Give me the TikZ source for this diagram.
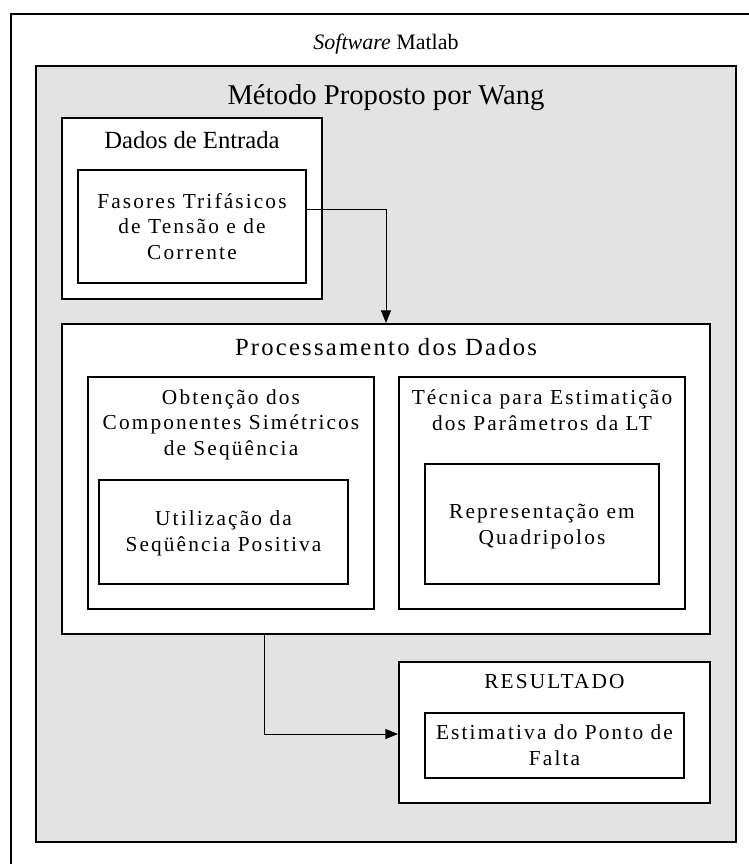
\documentclass[tikz,border=0pt]{standalone}
\usepackage{fontspec}
\setmainfont{Liberation Serif}
\newfontfamily\spacedfont[LetterSpace=10]{Liberation Serif}
\newfontfamily\procfont[LetterSpace=9]{Liberation Serif}
\usetikzlibrary{arrows.meta,fit}
\definecolor{bggray}{RGB}{227,227,227}
\begin{document}
\begin{tikzpicture}[x=0.75pt,y=-0.75pt,
  box/.style={draw,line width=1.5pt,fill=white,inner sep=0pt},
  btxt/.style={font=\spacedfont\fontsize{16}{19.1}\selectfont,align=center,inner sep=0pt,anchor=base},
  conn/.style={line width=0.75pt,-{Triangle[length=9.5pt,width=7.5pt]}}]
\useasboundingbox (0,0) rectangle (749,864);
\clip (0,0) rectangle (749,864);
\node[box, fit={(10.5,14) (790,900)}] (outer) {};
\node[box, fill=bggray, fit={(36,66) (736,842)}] (method) {};
\node[font=\fontsize{16.5}{20}\selectfont, anchor=base, inner sep=0pt] (sw) at (386,49) {\textit{Software} Matlab};
\node[font=\fontsize{21.5}{25}\selectfont, anchor=base, inner sep=0pt] (wang) at (386,104) {Método Proposto por Wang};
% input data
\node[box, fit={(62,118) (322,299)}] (dados) {};
\node[font=\fontsize{18.5}{22}\selectfont, anchor=base, inner sep=0pt] (dadost) at (192,148) {Dados de Entrada};
\node[box, fit={(78,170) (306,283)}] (fasores) {};
\node[btxt] (fasorest) at (192,259) {Fasores Trifásicos\\de Tensão e de\\Corrente};
% processing
\node[box, fit={(62,324) (710,634)}] (proc) {};
\node[font=\procfont\fontsize{18.5}{22}\selectfont, anchor=base, inner sep=0pt] (proct) at (386,355) {Processamento dos Dados};
\node[box, fit={(88,377) (374,609)}] (obt) {};
\node[btxt] (obtt) at (231,455) {Obtenção dos\\Componentes Simétricos\\de Seqüência};
\node[box, fit={(99,480) (348,584)}] (util) {};
\node[btxt] (utilt) at (223.5,551) {Utilização da\\Seqüência Positiva};
\node[box, fit={(399,377) (685,609)}] (tec) {};
\node[btxt] (tect) at (542,430) {Técnica para Estimatição\\dos Parâmetros da LT};
\node[box, fit={(425,464) (659,584)}] (rep) {};
\node[btxt] (rept) at (542,544) {Representação em\\Quadripolos};
% result
\node[box, fit={(399,662) (710,803)}] (res) {};
\node[btxt] (rest) at (554.5,688) {RESULTADO};
\node[box, fit={(425,713) (684,778)}] (est) {};
\node[btxt] (estt) at (554.5,765) {Estimativa do Ponto de\\Falta};
% connectors
\coordinate (c1) at (386,209);
\coordinate (c2) at (264,734);
\draw[conn] (fasores.east |- c1) -- (c1) -- (c1 |- proc.north);
\draw[conn] (c2 |- proc.south) -- (c2) -- (c2 -| res.west);
\end{tikzpicture}
\end{document}
